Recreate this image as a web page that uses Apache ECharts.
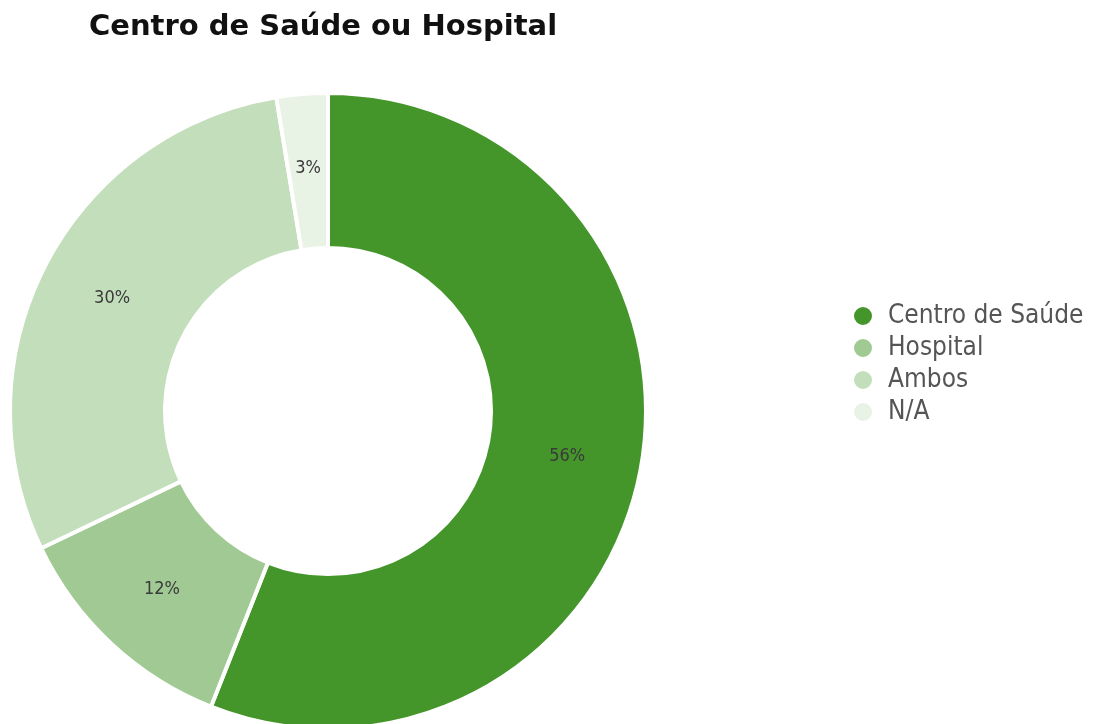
<!DOCTYPE html>
<html><head><meta charset="utf-8">
<script src="https://cdn.jsdelivr.net/npm/echarts@6/dist/echarts.min.js"></script>
<style>html,body{margin:0;padding:0;background:#fff}#c{width:1104px;height:724px}</style>
</head><body><div id="c"></div>
<script>
const categories = ["Centro de Saúde", "Hospital", "Ambos", "N/A"];
const shares = [56.0, 11.9, 29.5, 2.6];
const colors = ["#44962b", "#a0c993", "#c3debb", "#e8f2e5"];
const titleText = "Centro de Saúde ou Hospital";

const chart = echarts.init(document.getElementById('c'));
chart.setOption({
  animation: false,
  title: {
    text: titleText, left: 84, top: 8,
    textStyle: {fontFamily: 'DejaVu Sans', fontWeight: 'bold', fontSize: 29, color: '#111'}
  },
  legend: {
    orient: 'vertical', left: 847, top: 298, icon: 'circle',
    itemWidth: 20, itemHeight: 20, itemGap: 6,
    textStyle: {fontFamily: 'DejaVu Sans Condensed', fontSize: 26, color: '#555', padding: [0, 0, 0, 10]},
    data: categories
  },
  series: [{
    type: 'pie', center: [328, 411], radius: [163, 318],
    startAngle: 90, clockwise: true,
    itemStyle: {borderColor: '#fff', borderWidth: 4},
    label: {
      position: 'inside', fontFamily: 'DejaVu Sans Condensed', fontSize: 18, color: '#3a3a3a',
      formatter: p => Math.round(p.value) + '%'
    },
    labelLine: {show: false},
    emphasis: {disabled: true},
    data: categories.map((c, i) => ({name: c, value: shares[i], itemStyle: {color: colors[i]}}))
  }]
});
</script></body></html>
